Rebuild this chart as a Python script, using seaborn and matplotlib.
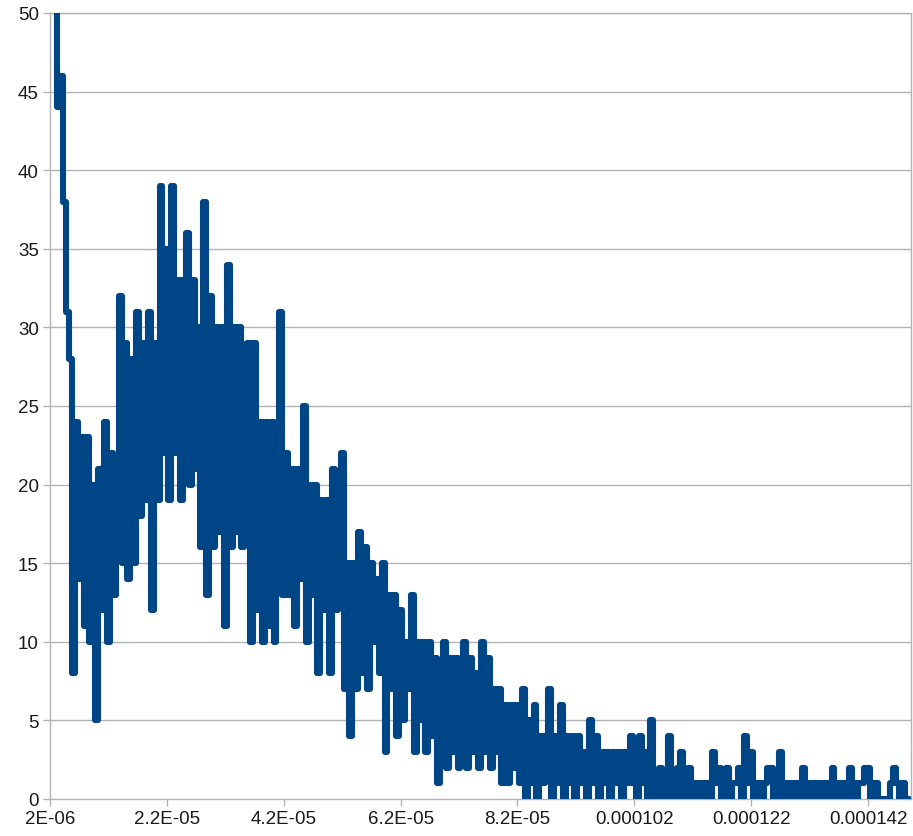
import numpy as np
import pandas as pd
import matplotlib
matplotlib.use("Agg")
import matplotlib.pyplot as plt
import seaborn as sns

# Bin start (seconds) and count per bin
x_start = 2e-06
x_step = 5e-07
counts = [
    90, 70, 58, 44, 46, 38, 31, 28, 8, 24,
    14, 23, 11, 23, 10, 20, 5, 21, 12, 24,
    10, 22, 13, 21, 32, 15, 29, 14, 28, 15,
    31, 18, 29, 19, 31, 12, 29, 19, 39, 22,
    35, 19, 39, 22, 33, 19, 33, 36, 20, 33,
    21, 30, 16, 38, 13, 32, 16, 30, 17, 30,
    11, 34, 16, 30, 17, 30, 16, 27, 29, 10,
    29, 12, 24, 10, 24, 11, 24, 10, 21, 31,
    13, 22, 13, 21, 11, 21, 14, 25, 10, 20,
    13, 20, 8, 19, 12, 19, 8, 21, 12, 16,
    22, 7, 15, 4, 15, 7, 17, 8, 16, 7,
    15, 10, 14, 8, 15, 3, 13, 7, 13, 4,
    12, 5, 10, 7, 13, 3, 10, 5, 10, 3,
    10, 4, 9, 1, 8, 10, 2, 9, 3, 9,
    2, 7, 10, 2, 9, 3, 8, 2, 10, 3,
    9, 2, 7, 3, 7, 1, 6, 1, 6, 2,
    6, 1, 7, 0, 5, 1, 6, 0, 4, 1,
    4, 7, 0, 4, 1, 6, 0, 4, 1, 4,
    0, 4, 1, 3, 0, 5, 1, 4, 0, 3,
    1, 3, 0, 3, 1, 3, 0, 3, 1, 4,
    1, 0, 4, 1, 3, 0, 5, 1, 0, 2,
    1, 0, 4, 1, 0, 2, 3, 0, 1, 2,
    0, 1, 1, 0, 1, 1, 0, 3, 1, 2,
    0, 1, 2, 0, 1, 1, 2, 0, 4, 1,
    3, 0, 1, 1, 0, 1, 2, 2, 0, 1,
    3, 0, 1, 1, 0, 1, 1, 0, 2, 1,
    0, 1, 1, 0, 1, 0, 1, 0, 2, 1,
    0, 1, 1, 0, 2, 1, 0, 1, 1, 2,
    2, 0, 1, 1, 0, 0, 0, 0, 1, 2,
    1, 0, 1, 0, 0,
]
bins = [x_start + i * x_step for i in range(len(counts))]

x_tick_values = [2e-06, 2.2e-05, 4.2e-05, 6.2e-05, 8.2e-05, 0.000102, 0.000122, 0.000142]
x_tick_labels = ["2E-06", "2.2E-05", "4.2E-05", "6.2E-05", "8.2E-05", "0.000102", "0.000122", "0.000142"]
y_ticks = [0, 5, 10, 15, 20, 25, 30, 35, 40, 45, 50]

df = pd.DataFrame({"bin": bins, "count": counts})

sns.set_style("white")
plt.rcParams["font.family"] = ["Liberation Sans", "DejaVu Sans"]

W, H = 913, 837
fig = plt.figure(figsize=(W / 100, H / 100), dpi=100)
ax = fig.add_axes([50 / W, 1 - 800 / H, (911 - 50) / W, (800 - 14) / H])

grid_color = "#b3b3b3"
for v in y_ticks[1:]:
    ax.axhline(v, color=grid_color, lw=1.0, zorder=0)

sns.lineplot(data=df, x="bin", y="count", ax=ax, color="#004586",
             linewidth=4.4, drawstyle="steps-mid", zorder=3)
for ln in ax.lines:
    ln.set_solid_joinstyle("round")
    ln.set_solid_capstyle("round")

ax.set_xlim(2e-06, 1.4935e-04)
ax.set_ylim(0, 50)
ax.set_xticks(x_tick_values)
ax.set_xticklabels(x_tick_labels)
ax.set_yticks(y_ticks)
ax.set_yticklabels([str(v) for v in y_ticks])
ax.set_xlabel("")
ax.set_ylabel("")

for s in ax.spines.values():
    s.set_color(grid_color)
    s.set_linewidth(1.0)

ax.tick_params(axis="both", which="major", direction="out", length=5,
               width=1.0, color=grid_color, labelsize=13.5, labelcolor="#1a1a1a",
               bottom=True, left=True, pad=3)

fig.savefig("out.png", dpi=100)
